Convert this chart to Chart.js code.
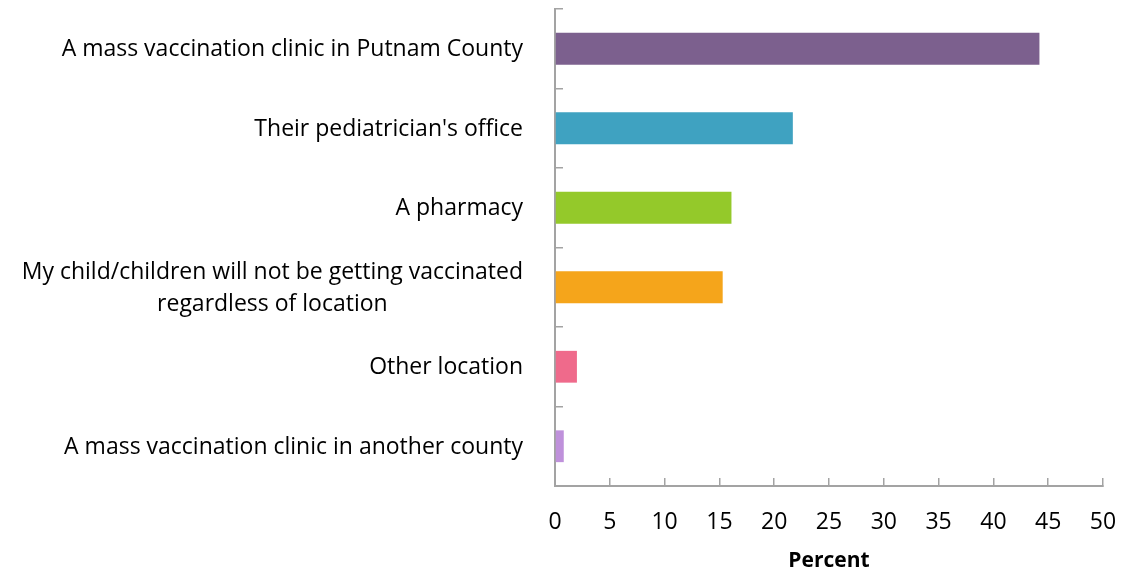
<!DOCTYPE html>
<html>
<head>
<meta charset="utf-8">
<script src="https://cdn.jsdelivr.net/npm/chart.js@4/dist/chart.umd.min.js"></script>
<style>
  html, body { margin: 0; padding: 0; background: #fff; }
  #wrap { width: 1122px; height: 574px; }
</style>
</head>
<body>
<div id="wrap"><canvas id="chart"></canvas></div>
<script>
const categories = [
    'A mass vaccination clinic in Putnam County',
    "Their pediatrician's office",
    'A pharmacy',
    ['My child/children will not be getting vaccinated', 'regardless of location'],
    'Other location',
    'A mass vaccination clinic in another county'
];
const percents = [44.2, 21.7, 16.1, 15.3, 2.0, 0.8];
const barColors = ['#7c608e', '#3fa2c1', '#94c92a', '#f5a51b', '#ef6a8b', '#bf91db'];
const xTicks = { min: 0, max: 50, step: 5 };

const fontFamily = '"Open Sans", Lato, sans-serif';
const axisGrey = '#a3a3a3';

// y labels drawn here so a wrapped label's lines are centred on each other
const yLabels = {
    id: 'yLabels',
    afterDraw(chart) {
        const ctx = chart.ctx;
        const yScale = chart.scales.y;
        ctx.save();
        ctx.font = '23px ' + fontFamily;
        ctx.fillStyle = '#000';
        ctx.textAlign = 'center';
        ctx.textBaseline = 'middle';
        categories.forEach((lab, i) => {
            const lines = Array.isArray(lab) ? lab : [lab];
            const w = Math.max(...lines.map(l => ctx.measureText(l).width));
            const cx = yScale.right - 32 - w / 2;
            const cy = yScale.getPixelForTick(i) + 1;
            lines.forEach((l, j) => {
                ctx.fillText(l, cx, cy + (j - (lines.length - 1) / 2) * 32);
            });
        });
        ctx.restore();
    }
};

new Chart(document.getElementById('chart'), {
    type: 'bar',
    data: {
        labels: categories,
        datasets: [{
            data: percents,
            backgroundColor: barColors,
            borderWidth: 0,
            categoryPercentage: 1,
            barPercentage: 0.4
        }]
    },
    options: {
        indexAxis: 'y',
        responsive: true,
        maintainAspectRatio: false,
        animation: false,
        layout: { padding: { top: 9, right: 0, left: 0, bottom: 0 } },
        plugins: {
            legend: { display: false },
            tooltip: { enabled: false }
        },
        scales: {
            x: {
                min: xTicks.min,
                max: xTicks.max,
                ticks: {
                    stepSize: xTicks.step,
                    color: '#000',
                    font: { family: fontFamily, size: 23 },
                    padding: 31,
                    maxRotation: 0
                },
                grid: {
                    drawOnChartArea: false,
                    color: axisGrey,
                    lineWidth: 1.5,
                    tickLength: -8
                },
                border: { color: axisGrey, width: 2 },
                title: {
                    display: true,
                    text: 'Percent',
                    color: '#000',
                    font: { family: fontFamily, size: 21, weight: 'bold' },
                    padding: { top: 0, bottom: 0 }
                },
                afterFit(scale) {
                    scale.height = 88;
                    scale.paddingLeft = 0;
                    scale.paddingRight = 19;
                }
            },
            y: {
                ticks: { display: false },
                grid: {
                    drawOnChartArea: false,
                    color: axisGrey,
                    lineWidth: 1.5,
                    tickLength: -8,
                    offset: true
                },
                border: { color: axisGrey, width: 2 },
                afterFit(scale) { scale.width = 555; }
            }
        }
    },
    plugins: [yLabels]
});
</script>
</body>
</html>
